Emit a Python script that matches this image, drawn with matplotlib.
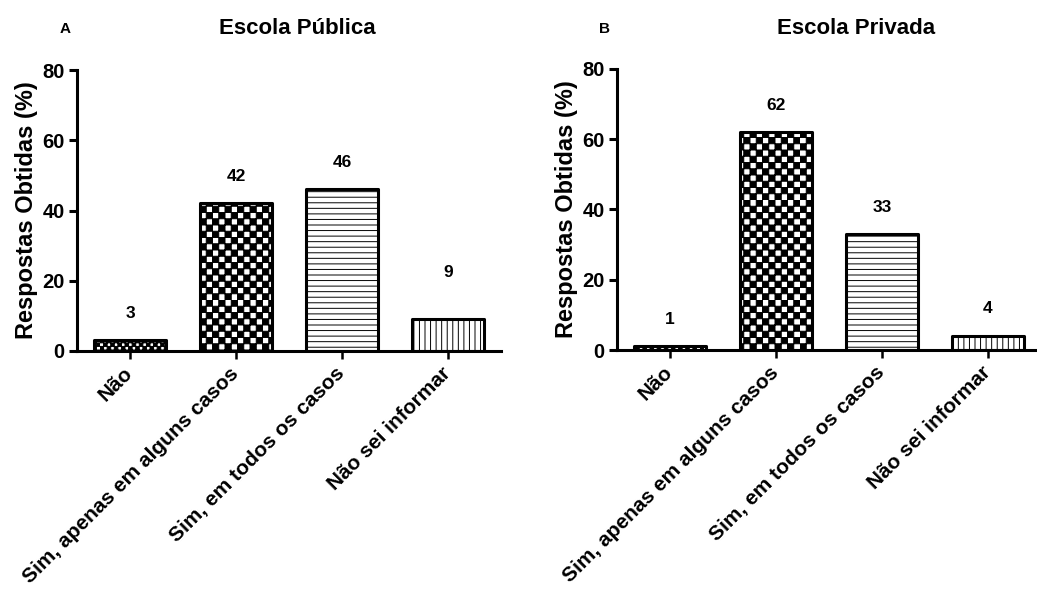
"""
Escola Pública / Escola Privada bar panels
"""
import warnings

import numpy as np
import matplotlib
matplotlib.use("Agg")
import matplotlib.pyplot as plt
import matplotlib.hatch as mhatch
from matplotlib.path import Path

warnings.filterwarnings("ignore")

categories = ["Não", "Sim, apenas em alguns casos", "Sim, em todos os casos", "Não sei informar"]
publica = [3, 42, 46, 9]
privada = [1, 62, 33, 4]
panel_titles = ["Escola Pública", "Escola Privada"]
panel_letters = ["A", "B"]
y_ticks = [0, 20, 40, 60, 80]

hatches = ["k", "c", "---", "|||"]
# label offsets above bar top (points)
label_pad_publica = [19.5, 19.5, 19.5, 34]
label_pad_privada = [19.5, 19.5, 19.5, 19.5]


class CheckerHatch(mhatch.HatchPatternBase):
    """Filled checkerboard: 'c' -> 16 cells per inch, 'k' -> 28."""

    def __init__(self, hatch, density):
        self.num_cells = 16 * hatch.count('c') + 28 * hatch.count('k')
        self.num_vertices = 5 * (self.num_cells ** 2 // 2)

    def set_vertices_and_codes(self, vertices, codes):
        n = self.num_cells
        s = 1.0 / n
        i = 0
        for r in range(n):
            for c in range(n):
                if (r + c) % 2 == 0:
                    x0, y0 = c * s, r * s
                    vertices[i:i + 5] = [(x0, y0), (x0 + s, y0), (x0 + s, y0 + s),
                                         (x0, y0 + s), (x0, y0)]
                    codes[i] = Path.MOVETO
                    codes[i + 1:i + 4] = Path.LINETO
                    codes[i + 4] = Path.CLOSEPOLY
                    i += 5


mhatch._hatch_types.append(CheckerHatch)

plt.rcParams['font.family'] = ['Liberation Sans', 'DejaVu Sans']
plt.rcParams['font.weight'] = 'bold'
plt.rcParams['hatch.linewidth'] = 0.7
plt.rcParams['hatch.color'] = 'black'


def draw_panel(ax, values, pads):
    x = np.arange(len(categories))
    bars = ax.bar(x, values, width=0.68, color='white', edgecolor='black',
                  linewidth=2.2, joinstyle='round')
    for b, h in zip(bars, hatches):
        b.set_hatch(h)
    for xi, v, p in zip(x, values, pads):
        ax.annotate(str(v), (xi, v), xytext=(0, p), textcoords='offset points',
                    ha='center', va='center', fontsize=12.5, fontweight='bold')

    ax.set_xlim(-0.5, 3.5)
    ax.set_ylim(0, 80)
    ax.set_yticks(y_ticks)
    ax.set_xticks(x)
    ax.set_xticklabels(categories, rotation=45, ha='right', va='center',
                       rotation_mode='anchor', fontsize=15, fontweight='bold')
    ax.tick_params(axis='y', length=5.8, width=2.2, pad=3, labelsize=14.5)
    ax.tick_params(axis='x', length=6, width=1.8, pad=8)
    for lab in ax.get_yticklabels():
        lab.set_fontweight('bold')
    for side in ['top', 'right']:
        ax.spines[side].set_visible(False)
    for side in ['left', 'bottom']:
        ax.spines[side].set_linewidth(2.2)
        ax.spines[side].set_capstyle('projecting')
    ax.set_ylabel("Respostas Obtidas (%)", fontsize=17, fontweight='bold', labelpad=3)
    ax.patch.set_visible(False)


fig = plt.figure(figsize=(10.37, 5.89), dpi=100)
W, H = 1037, 589
ax1 = fig.add_axes([77 / W, 1 - 351 / H, 424 / W, 281 / H])
ax2 = fig.add_axes([617 / W, 1 - 350 / H, 424 / W, 281 / H])

draw_panel(ax1, publica, label_pad_publica)
draw_panel(ax2, privada, label_pad_privada)

fig.text(297 / W, 1 - 29 / H, panel_titles[0], ha='center', va='center',
         fontsize=16, fontweight='bold')
fig.text(856 / W, 1 - 29 / H, panel_titles[1], ha='center', va='center',
         fontsize=16, fontweight='bold')
fig.text(65 / W, 1 - 29 / H, panel_letters[0], ha='center', va='center',
         fontsize=11, fontweight='bold')
fig.text(605 / W, 1 - 29 / H, panel_letters[1], ha='center', va='center',
         fontsize=11, fontweight='bold')

fig.savefig("out.png", dpi=100)
